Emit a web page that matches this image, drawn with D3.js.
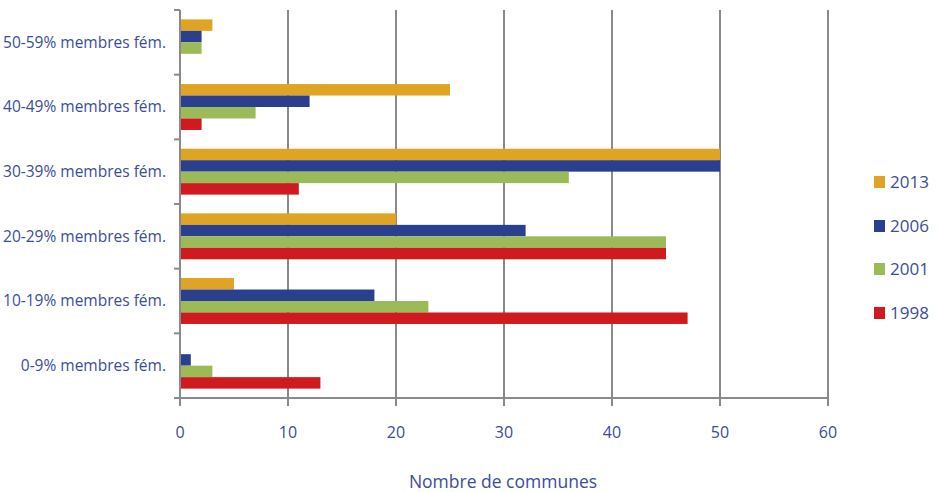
<!DOCTYPE html>
<html><head><meta charset="utf-8">
<script src="https://cdn.jsdelivr.net/npm/d3@7"></script>
<style>body{margin:0;background:#fff}</style>
</head><body>
<svg id="c" width="940" height="492"></svg>
<script>
const categories = ["50-59% membres fém.","40-49% membres fém.","30-39% membres fém.","20-29% membres fém.","10-19% membres fém.","0-9% membres fém."];
const years = ["2013","2006","2001","1998"];
const v2013 = [3,25,50,20,5,0];
const v2006 = [2,12,50,32,18,1];
const v2001 = [2,7,36,45,23,3];
const v1998 = [0,2,11,45,47,13];
const xTicks = [0,10,20,30,40,50,60];
const colors = {"2013":"#DFA424","2006":"#2B3F8F","2001":"#9BBB59","1998":"#CF1A20"};
const series = {"2013":v2013,"2006":v2006,"2001":v2001,"1998":v1998};

const svg = d3.select("#c");
const txt = "#3B4C9B";
const font = "'Open Sans', sans-serif";
const x = d3.scaleLinear().domain([0,60]).range([180,828]);
const y = d3.scaleBand().domain(categories).range([10,398]).paddingInner(0.29).paddingOuter(0.145);
const ys = d3.scaleBand().domain(years).range([0,y.bandwidth()]);

// gridlines
svg.append("g").selectAll("line").data(xTicks.slice(1)).join("line")
  .attr("x1",d=>x(d)).attr("x2",d=>x(d)).attr("y1",10).attr("y2",406)
  .attr("stroke","#8a8a8a").attr("stroke-width",2);

// bars
const g = svg.append("g");
categories.forEach((c,i)=>{
  years.forEach(yr=>{
    const val = series[yr][i];
    if (val<=0) return;
    g.append("rect").attr("x",x(0)).attr("y",y(c)+ys(yr))
     .attr("width",x(val)-x(0)).attr("height",ys.bandwidth())
     .attr("fill",colors[yr]);
  });
});

// left axis
svg.append("line").attr("x1",x(0)).attr("x2",x(0)).attr("y1",10).attr("y2",406)
  .attr("stroke","#8a8a8a").attr("stroke-width",2);
const bandTicks = categories.map(c=>y(c)-y.step()*0.145).concat([398]);
svg.append("g").selectAll("line").data(bandTicks).join("line")
  .attr("x1",174).attr("x2",x(0)).attr("y1",d=>d).attr("y2",d=>d)
  .attr("stroke","#8a8a8a").attr("stroke-width",2);
// bottom axis
svg.append("line").attr("x1",174).attr("x2",x(60)).attr("y1",398).attr("y2",398)
  .attr("stroke","#8a8a8a").attr("stroke-width",2);

// category labels
svg.append("g").selectAll("text").data(categories).join("text")
  .attr("x",166).attr("y",d=>y(d)+y.bandwidth()/2).attr("dy","0.35em")
  .attr("text-anchor","end").attr("fill",txt).attr("font-family",font).attr("font-size",15.5)
  .text(d=>d);

// x tick labels
svg.append("g").selectAll("text").data(xTicks).join("text")
  .attr("x",d=>x(d)).attr("y",438).attr("text-anchor","middle")
  .attr("fill",txt).attr("font-family",font).attr("font-size",16).text(d=>d);

svg.append("text").attr("x",503).attr("y",488).attr("text-anchor","middle")
  .attr("fill",txt).attr("font-family",font).attr("font-size",17.5).text("Nombre de communes");

// legend
const legY = [182,226,269,313];
years.forEach((yr,i)=>{
  svg.append("rect").attr("x",874).attr("y",legY[i]-6).attr("width",11).attr("height",12).attr("fill",colors[yr]);
  svg.append("text").attr("x",890).attr("y",legY[i]).attr("dy","0.35em")
    .attr("fill",txt).attr("font-family",font).attr("font-size",17).text(yr);
});
</script>
</body></html>
